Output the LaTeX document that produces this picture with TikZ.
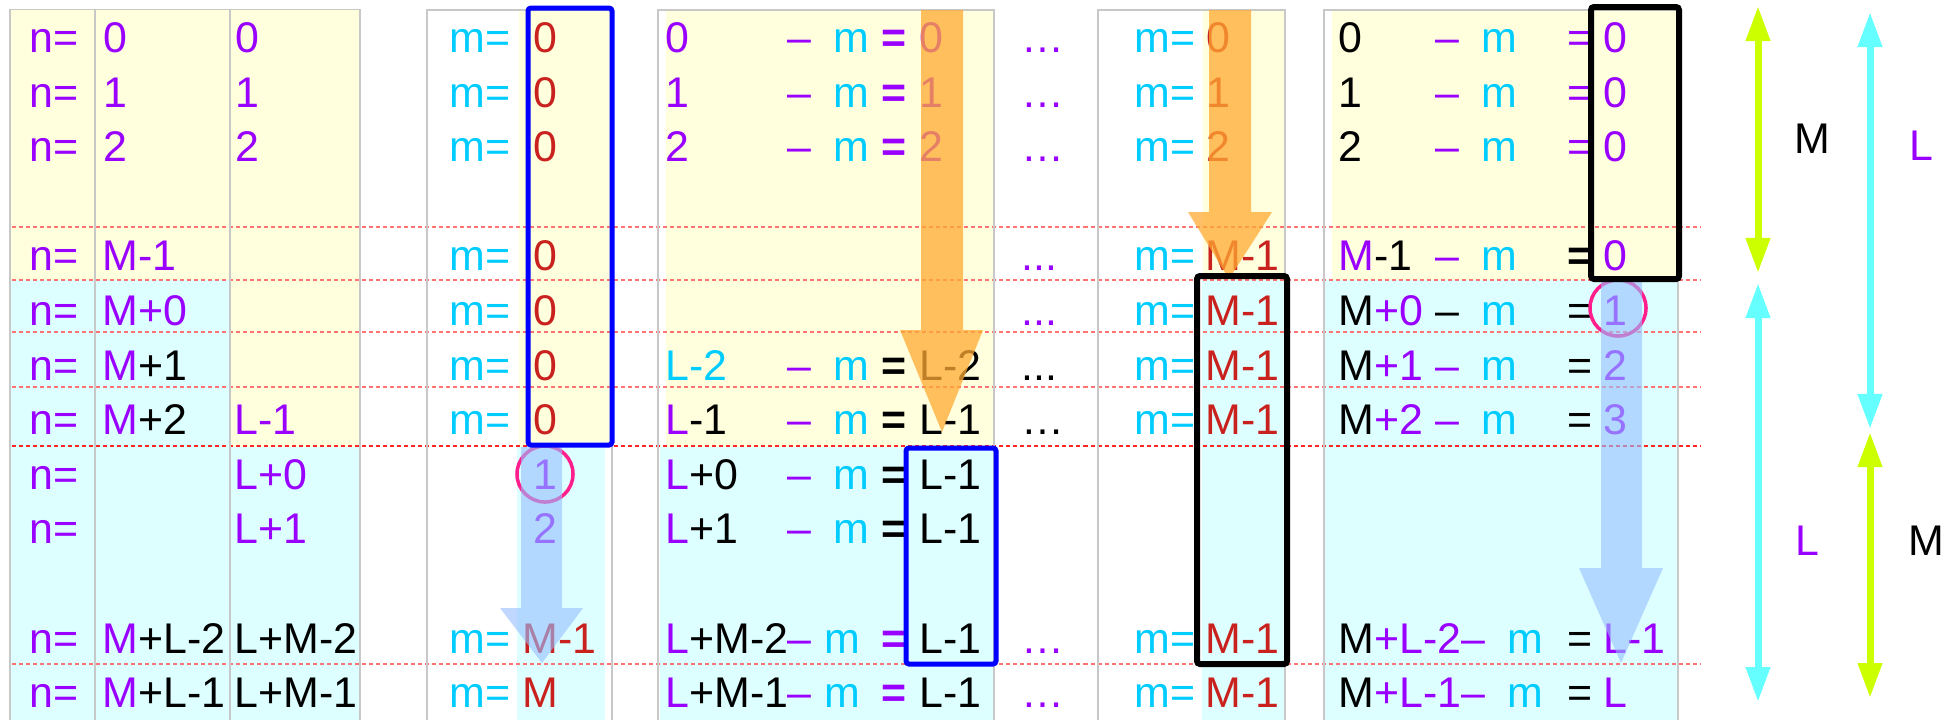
\documentclass[tikz,border=0pt]{standalone}
\usepackage{fontspec}
\setmainfont{Liberation Sans}
\usetikzlibrary{arrows.meta}
\definecolor{vi}{HTML}{9900FF}
\definecolor{cy}{HTML}{00CCFF}
\definecolor{rd}{HTML}{C9211E}
\definecolor{yel}{HTML}{FFFFDD}
\definecolor{cya}{HTML}{DDFFFF}
\definecolor{org}{HTML}{FFAA33}
\definecolor{lbl}{HTML}{96BEFF}
\definecolor{pnk}{HTML}{FF1E8C}
\definecolor{ygn}{HTML}{CCFF00}
\definecolor{aq}{HTML}{66FFFF}
\definecolor{gry}{HTML}{C8C8C8}
\tikzset{
  tx/.style={anchor=base west, inner sep=0pt, font=\fontsize{12.2}{14}\selectfont},
  tv/.style={tx, text=vi},
  tc/.style={tx, text=cy},
  tr/.style={tx, text=rd},
  tk/.style={tx, text=black},
  frm/.style={draw=gry, line width=0.015cm},
  dsh/.style={draw=red!55, line width=0.014cm, dash pattern=on 0.04cm off 0.03cm},
  dshr/.style={dsh, draw=red!85},
  bbox/.style={draw=blue, line width=0.05cm, rounded corners=0.03cm},
  kbox/.style={draw=black, line width=0.06cm, rounded corners=0.03cm},
  oarr/.style={fill=org, fill opacity=0.75},   % orange block arrow
  barr/.style={fill=lbl, fill opacity=0.6},    % light blue block arrow
  ring/.style={draw=pnk, line width=0.035cm},
  dar/.style={line width=0.07cm, {Triangle[length=0.35cm,width=0.23cm]}-{Triangle[length=0.35cm,width=0.23cm]}},
}
\begin{document}
\begin{tikzpicture}[x=0.01cm, y=-0.01cm]
        \useasboundingbox (0,0) rectangle (1948,720);
        % backgrounds
        \fill[yel] (11,10) rectangle (230,280); \fill[cya] (11,280) rectangle (230,720);
        \fill[yel] (230,10) rectangle (360,447); \fill[cya] (230,447) rectangle (360,720);
        \fill[yel] (519,10) rectangle (612,447); \fill[cya] (517,447) rectangle (605,720);
        \fill[yel] (666,10) rectangle (994,447); \fill[cya] (660,447) rectangle (994,720);
        \fill[yel] (1203,10) rectangle (1285,280); \fill[cya] (1202,280) rectangle (1285,720);
        \fill[yel] (1332,10) rectangle (1678,280); \fill[cya] (1325,280) rectangle (1678,720);
        \draw[dsh] (12,227)--(1700,227); \draw[dsh] (12,280)--(1700,280); \draw[dsh] (12,332)--(1700,332);
        \draw[dsh] (12,387)--(1700,387); \draw[dshr] (12,446)--(1700,446); \draw[dsh] (12,664)--(1700,664);
        \draw[frm] (10,720)--(10,9.5)--(360,9.5)--(360,720) (95,9.5)--(95,720) (230,9.5)--(230,720);
        \draw[frm] (427,720)--(427,10)--(612,10)--(612,720);
        \draw[frm] (658,720)--(658,10)--(994,10)--(994,720);
        \draw[frm] (1098,720)--(1098,10)--(1285,10)--(1285,720);
        \draw[frm] (1324,720)--(1324,10)--(1678,10)--(1678,720);
        % n=
        \node[tv](an0) at (29,52){n=}; \node[tv](av0) at (103,52){0}; \node[tv](aw0) at (235,52){0};
        \node[tv](an1) at (29,107){n=}; \node[tv](av1) at (103,107){1}; \node[tv](aw1) at (235,107){1};
        \node[tv](an2) at (29,161){n=}; \node[tv](av2) at (103,161){2}; \node[tv](aw2) at (235,161){2};
        \node[tv](an4) at (29,270){n=}; \node[tv](av4) at (102,270){M-1};
        \node[tv](an5) at (29,325){n=}; \node[tv](av5) at (102,325){M+0};
        \node[tv](an6) at (29,380){n=}; \node[tk](av6) at (102,380){\textcolor{vi}{M}+1};
        \node[tv](an7) at (29,434){n=}; \node[tk](av7) at (102,434){\textcolor{vi}{M}+2}; \node[tv](aw7) at (234,434){L-1};
        \node[tv](an8) at (29,489){n=}; \node[tv](aw8) at (234,489){L+0};
        \node[tv](an9) at (29,543){n=}; \node[tv](aw9) at (234,543){L+1};
        \node[tv](an11) at (29,653){n=}; \node[tk](av11) at (102,653){\textcolor{vi}{M}+L-2}; \node[tk](aw11) at (234,653){L+M-2};
        \node[tv](an12) at (29,707){n=}; \node[tk](av12) at (102,707){\textcolor{vi}{M}+L-1}; \node[tk](aw12) at (234,707){L+M-1};
        % m=
        \node[tc](bm0) at (449,52){m=}; \node[tr](bv0) at (533,52){0};
        \node[tc](bm1) at (449,107){m=}; \node[tr](bv1) at (533,107){0};
        \node[tc](bm2) at (449,161){m=}; \node[tr](bv2) at (533,161){0};
        \node[tc](bm4) at (449,270){m=}; \node[tr](bv4) at (533,270){0};
        \node[tc](bm5) at (449,325){m=}; \node[tr](bv5) at (533,325){0};
        \node[tc](bm6) at (449,380){m=}; \node[tr](bv6) at (533,380){0};
        \node[tc](bm7) at (449,434){m=}; \node[tr](bv7) at (533,434){0};
        \node[tv](bv8) at (533,489){1};
        \node[tv](bv9) at (533,543){2};
        \node[tc](bm11) at (449,653){m=}; \node[tr](bv11) at (522,653){M-1};
        \node[tc](bm12) at (449,707){m=}; \node[tr](bv12) at (522,707){M};
        % n - m
        \node[tv](cn0) at (665,52){0}; \node[tv](cd0) at (787,52){–}; \node[tc](cm0) at (833,52){m}; \node[tv](ce0) at (881,52){\bfseries =}; \node[tv](cv0) at (919,52){0};
        \node[tv](cn1) at (665,107){1}; \node[tv](cd1) at (787,107){–}; \node[tc](cm1) at (833,107){m}; \node[tv](ce1) at (881,107){\bfseries =}; \node[tv](cv1) at (919,107){1};
        \node[tv](cn2) at (665,161){2}; \node[tv](cd2) at (787,161){–}; \node[tc](cm2) at (833,161){m}; \node[tv](ce2) at (881,161){\bfseries =}; \node[tv](cv2) at (919,161){2};
        \node[tc](cn6) at (665,380){L-2}; \node[tv](cd6) at (787,380){–}; \node[tc](cm6) at (833,380){m}; \node[tk](ce6) at (881,380){\bfseries =}; \node[tk](cv6) at (919,380){L-2};
        \node[tk](cn7) at (665,434){\textcolor{vi}{L}-1}; \node[tv](cd7) at (787,434){–}; \node[tc](cm7) at (833,434){m}; \node[tk](ce7) at (881,434){\bfseries =}; \node[tk](cv7) at (919,434){L-1};
        \node[tk](cn8) at (665,489){\textcolor{vi}{L}+0}; \node[tv](cd8) at (787,489){–}; \node[tc](cm8) at (833,489){m}; \node[tk](ce8) at (881,489){\bfseries =}; \node[tk](cv8) at (919,489){L-1};
        \node[tk](cn9) at (665,543){\textcolor{vi}{L}+1}; \node[tv](cd9) at (787,543){–}; \node[tc](cm9) at (833,543){m}; \node[tk](ce9) at (881,543){\bfseries =}; \node[tk](cv9) at (919,543){L-1};
        \node[tk](cn11) at (665,653){\textcolor{vi}{L}+M-2}; \node[tv](cd11) at (787,653){–}; \node[tc](cm11) at (824,653){m}; \node[tv](ce11) at (881,653){\bfseries =}; \node[tk](cv11) at (919,653){L-1};
        \node[tk](cn12) at (665,707){\textcolor{vi}{L}+M-1}; \node[tv](cd12) at (787,707){–}; \node[tc](cm12) at (824,707){m}; \node[tv](ce12) at (881,707){\bfseries =}; \node[tk](cv12) at (919,707){L-1};
        % dots
        \node[tv](dd0) at (1021,52){…}; \node[tv](dd1) at (1021,107){…}; \node[tv](dd2) at (1021,161){…};
        \node[tv](dd4) at (1021,270){...}; \node[tv](dd5) at (1021,325){...};
        \node[tk](dd6) at (1021,380){...}; \node[tk](dd7) at (1021,434){…};
        \node[tv](dd11) at (1021,653){…}; \node[tv](dd12) at (1021,707){…};
        % m= (right)
        \node[tc](em0) at (1134,52){m=}; \node[tr](ev0) at (1206,52){0};
        \node[tc](em1) at (1134,107){m=}; \node[tr](ev1) at (1206,107){1};
        \node[tc](em2) at (1134,161){m=}; \node[tr](ev2) at (1206,161){2};
        \node[tc](em4) at (1134,270){m=}; \node[tr](ev4) at (1205,270){M-1};
        \node[tc](em5) at (1134,325){m=}; \node[tr](ev5) at (1205,325){M-1};
        \node[tc](em6) at (1134,380){m=}; \node[tr](ev6) at (1205,380){M-1};
        \node[tc](em7) at (1134,434){m=}; \node[tr](ev7) at (1205,434){M-1};
        \node[tc](em11) at (1134,653){m=}; \node[tr](ev11) at (1205,653){M-1};
        \node[tc](em12) at (1134,707){m=}; \node[tr](ev12) at (1205,707){M-1};
        % n - m (right)
        \node[tk](fn0) at (1338,52){0}; \node[tv](fd0) at (1435,52){–}; \node[tc](fm0) at (1481,52){m}; \node[tv](fe0) at (1567,52){=}; \node[tv](fv0) at (1603,52){0};
        \node[tk](fn1) at (1338,107){1}; \node[tv](fd1) at (1435,107){–}; \node[tc](fm1) at (1481,107){m}; \node[tv](fe1) at (1567,107){=}; \node[tv](fv1) at (1603,107){0};
        \node[tk](fn2) at (1338,161){2}; \node[tv](fd2) at (1435,161){–}; \node[tc](fm2) at (1481,161){m}; \node[tv](fe2) at (1567,161){=}; \node[tv](fv2) at (1603,161){0};
        \node[tk](fn4) at (1338,270){\textcolor{vi}{M}-1}; \node[tv](fd4) at (1435,270){–}; \node[tc](fm4) at (1481,270){m}; \node[tk](fe4) at (1567,270){\bfseries =}; \node[tv](fv4) at (1603,270){0};
        \node[tv](fn5) at (1338,325){\textcolor{black}{M}+0}; \node[tk](fd5) at (1435,325){–}; \node[tc](fm5) at (1481,325){m}; \node[tk](fe5) at (1567,325){=}; \node[tv](fv5) at (1603,325){1};
        \node[tv](fn6) at (1338,380){\textcolor{black}{M}+1}; \node[tv](fd6) at (1435,380){–}; \node[tc](fm6) at (1481,380){m}; \node[tk](fe6) at (1567,380){=}; \node[tv](fv6) at (1603,380){2};
        \node[tv](fn7) at (1338,434){\textcolor{black}{M}+2}; \node[tv](fd7) at (1435,434){–}; \node[tc](fm7) at (1481,434){m}; \node[tk](fe7) at (1567,434){=}; \node[tv](fv7) at (1603,434){3};
        \node[tv](fn11) at (1338,653){\textcolor{black}{M}+L-2–}; \node[tc](fm11) at (1507,653){m}; \node[tk](fe11) at (1567,653){=}; \node[tv](fv11) at (1603,653){L-1};
        \node[tv](fn12) at (1338,707){\textcolor{black}{M}+L-1–}; \node[tc](fm12) at (1507,707){m}; \node[tk](fe12) at (1567,707){=}; \node[tv](fv12) at (1603,707){L};
        % circles and block arrows
        \draw[ring] (545,474) circle[radius=0.28cm];
        \draw[ring] (1618,308) circle[radius=0.28cm];
        \fill[oarr] (921,10)--(963,10)--(963,330)--(983,330)--(942,432)--(900,330)--(921,330)--cycle;
        \fill[oarr] (1209,10)--(1251,10)--(1251,212)--(1272,212)--(1229,279)--(1188,212)--(1209,212)--cycle;
        \fill[barr] (521,447)--(562,447)--(562,608)--(583,608)--(542,663)--(500,608)--(521,608)--cycle;
        \fill[barr] (1601,282)--(1642,282)--(1642,568)--(1663,568)--(1621,663)--(1579,568)--(1601,568)--cycle;
        \draw[bbox] (528,8) rectangle (612,445);
        \draw[bbox] (906,448) rectangle (996,664);
        \draw[kbox] (1197,276) rectangle (1287,664);
        \draw[kbox] (1591,7) rectangle (1679,279);
        % spans
        \coordinate (ua) at (1758,6); \coordinate (ub) at (1758,273);
        \coordinate (uc) at (1758,283); \coordinate (ud) at (1758,702);
        \coordinate (va) at (1870,12); \coordinate (vb) at (1870,429);
        \coordinate (vc) at (1870,432); \coordinate (vd) at (1870,698);
        \draw[dar, ygn](ua)--(ub); \draw[dar, aq](uc)--(ud);
        \draw[dar, aq](va)--(vb); \draw[dar, ygn](vc)--(vd);
        \node[tk](lm1) at (1794,153){M}; \node[tv](ll1) at (1909,160){L};
        \node[tv](ll2) at (1795,555){L}; \node[tk](lm2) at (1908,555){M};
\end{tikzpicture}
\end{document}
